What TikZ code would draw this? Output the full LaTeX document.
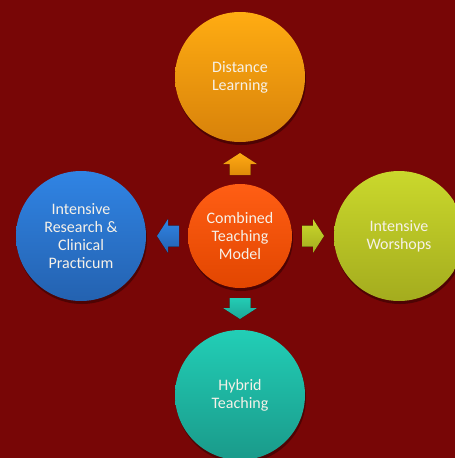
\documentclass[tikz,border=0pt]{standalone}
\usepackage{fontspec}
\setmainfont{Carlito}
\usetikzlibrary{shadows}
\definecolor{bgred}{HTML}{780606}
\definecolor{txt}{HTML}{F6F1E8}
\definecolor{cTop}{HTML}{FF5E14}\definecolor{cBot}{HTML}{E24600}
\definecolor{oTop}{HTML}{FFAC12}\definecolor{oBot}{HTML}{D8820A}
\definecolor{tTop}{HTML}{22CEB6}\definecolor{tBot}{HTML}{1A9A8A}
\definecolor{bTop}{HTML}{3084E4}\definecolor{bBot}{HTML}{2462B0}
\definecolor{gTop}{HTML}{CAD82C}\definecolor{gBot}{HTML}{A4AC1E}
\definecolor{oaTop}{HTML}{FFAA14}\definecolor{oaBot}{HTML}{E08A08}
\definecolor{taTop}{HTML}{24CCB4}\definecolor{taBot}{HTML}{1CA696}
\begin{document}
\begin{tikzpicture}[x=1pt,y=-1pt,
  ball/.style={circle, inner sep=0pt, draw=none, text=txt, align=center,
    font=\fontsize{16}{18}\selectfont,
    drop shadow={shadow xshift=1pt, shadow yshift=-3pt, opacity=0.35, fill=black}},
  outer/.style={ball, minimum size=130pt},
  inner/.style={ball, minimum size=104pt}]
\fill[bgred] (0,0) rectangle (455,458);
\useasboundingbox (0,0) rectangle (455,458);
% circles
\node[inner, top color=cTop, bottom color=cBot] (c) at (240,236) {Combined\\Teaching\\Model};
\node[outer, top color=oTop, bottom color=oBot] (t) at (240,77) {Distance\\Learning};
\node[outer, top color=tTop, bottom color=tBot] (b) at (240,395) {Hybrid\\Teaching};
\node[outer, top color=bTop, bottom color=bBot] (l) at (81,236) {Intensive\\Research \&\\Clinical\\Practicum};
\node[outer, top color=gTop, bottom color=gBot] (r) at (399,236) {Intensive\\Worshops};
% block arrows
\fill[top color=oaTop, bottom color=oaBot]
  (240,153) -- (257,164) -- (250.5,164) -- (250.5,175) -- (229.5,175) -- (229.5,164) -- (223,164) -- cycle;
\fill[top color=taTop, bottom color=taBot]
  (229.5,298) -- (250.5,298) -- (250.5,308) -- (257,308) -- (240,319) -- (223,308) -- (229.5,308) -- cycle;
\fill[top color=bTop, bottom color=bBot]
  (157,236) -- (168,219) -- (168,225.5) -- (179,225.5) -- (179,246.5) -- (168,246.5) -- (168,253) -- cycle;
\fill[top color=gTop, bottom color=gBot]
  (302,225.5) -- (313,225.5) -- (313,219) -- (324,236) -- (313,253) -- (313,246.5) -- (302,246.5) -- cycle;
\end{tikzpicture}
\end{document}
